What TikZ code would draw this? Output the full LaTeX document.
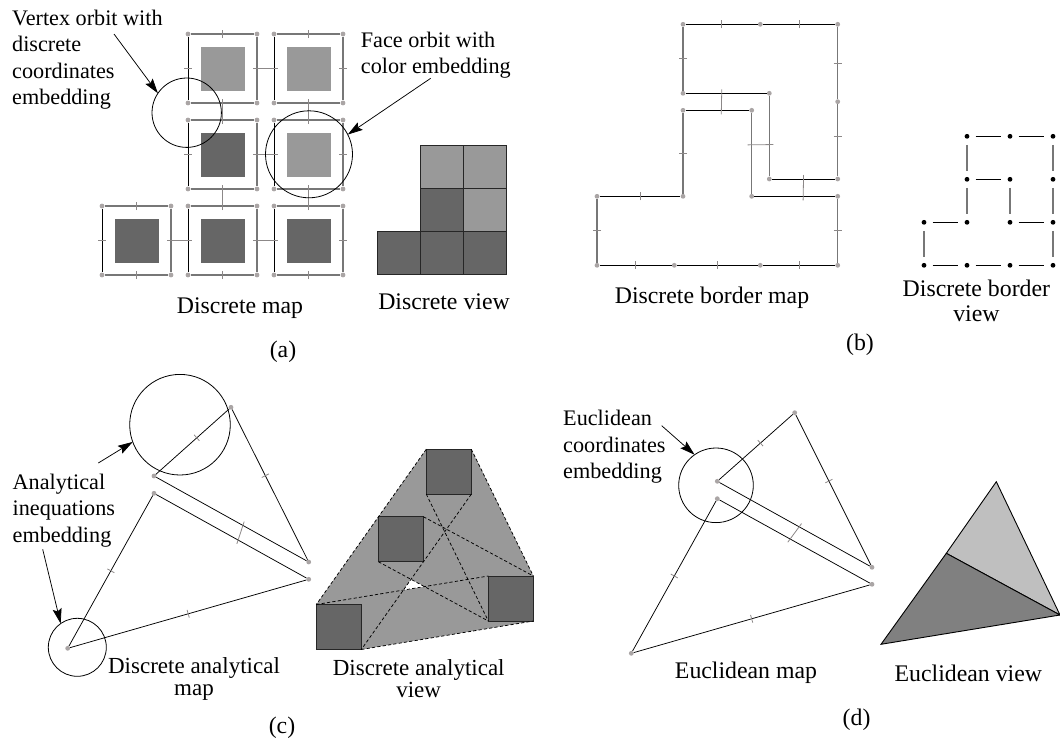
\documentclass[tikz,border=0pt]{standalone}
\usepackage{fontspec}
\setmainfont{Liberation Serif}
\usetikzlibrary{arrows.meta,backgrounds,decorations.markings,positioning}
\definecolor{facelight}{HTML}{999999}
\definecolor{facedark}{HTML}{666666}
\definecolor{dotgray}{HTML}{AAA5A5}
\definecolor{arcgray}{HTML}{777777}
\definecolor{tickgray}{HTML}{8C8888}
\tikzset{
  vertexdot/.style={circle,fill=dotgray,inner sep=0pt,minimum size=4.8pt},
  bulletdot/.style={circle,fill=black,inner sep=0pt,minimum size=4.8pt},
  arcblack/.style={black,line width=.9pt},
  arcgrey/.style={arcgray,line width=1.5pt},
  arcthin/.style={black,line width=.75pt},
  tickline/.style={tickgray,line width=.8pt},
  ticked/.style={postaction={decorate,decoration={markings,mark=at position #1 with {\draw[tickline] (0pt,-4pt) -- (0pt,4pt);}}}},
  ticked/.default=.5,
  link/.style={tickline,shorten <=-4pt,shorten >=-4pt},
  face/.style={rectangle,inner sep=0pt,outer sep=0pt,minimum size=44pt},
  tile/.style={rectangle,draw=black!85,line width=.9pt,inner sep=0pt,outer sep=0pt,minimum size=43pt},
  square/.style={rectangle,draw=black!85,fill=facedark,line width=.9pt,inner sep=0pt,outer sep=0pt,minimum size=45pt},
  ring/.style={circle,draw,line width=.8pt,inner sep=0pt,outer sep=0pt,minimum size=#1},
  pointer/.style={-{Stealth[length=15pt,width=9pt,inset=2.5pt]},line width=.75pt},
  dashline/.style={line width=.75pt,dash pattern=on 3.2pt off 2.2pt},
  title/.style={font=\fontsize{23.8}{25}\selectfont,align=center,inner sep=0pt},
  titlewide/.style={font=\fontsize{23}{22}\selectfont,align=center,inner sep=0pt},
  note/.style={font=\fontsize{22.2}{26.5}\selectfont,align=left,anchor=west,inner sep=0pt}
}
\newcommand{\facecell}[4]{
  \node[vertexdot] (#1-nw) at (#2,#3) {};
  \node[vertexdot] (#1-ne) at (#2+69,#3) {};
  \node[vertexdot] (#1-se) at (#2+69,#3+69) {};
  \node[vertexdot] (#1-sw) at (#2,#3+69) {};
  \node[face,fill=#4] (#1-face) at (#2+34.5,#3+34.5) {};
  \draw[arcgrey,ticked] (#1-nw) -- coordinate (#1-n) (#1-ne);
  \draw[arcgrey,ticked] (#1-sw) -- coordinate (#1-s) (#1-se);
  \draw[arcblack,ticked] (#1-nw) -- coordinate (#1-w) (#1-sw);
  \draw[arcgrey,line width=1.1pt,ticked] (#1-ne) -- coordinate (#1-e) (#1-se);
}
\begin{document}
\begin{tikzpicture}[x=1pt,y=-1pt]
  \useasboundingbox (0,0) rectangle (1060,742);

  \facecell{ca}{188}{34}{facelight}
  \facecell{cb}{274}{34}{facelight}
  \facecell{cc}{188}{120}{facedark}
  \facecell{cd}{274}{120}{facelight}
  \facecell{ce}{102}{206}{facedark}
  \facecell{cf}{188}{206}{facedark}
  \facecell{cg}{274}{206}{facedark}
  \draw[link] (ca-e) -- (cb-w);
  \draw[link] (cc-e) -- (cd-w);
  \draw[link] (ce-e) -- (cf-w);
  \draw[link] (cf-e) -- (cg-w);
  \draw[link] (ca-s) -- (cc-n);
  \draw[link] (cb-s) -- (cd-n);
  \draw[link] (cc-s) -- (cf-n);
  \draw[link] (cd-s) -- (cg-n);
  \node[ring=69.4pt] (orbitv) at (186.7,112.7) {};
  \node[ring=87pt] (orbitf) at (309,154.3) {};
  \node[note] (notev) at (12,59.5) {Vertex orbit with\\discrete\\coordinates\\embedding};
  \node[note] (notef) at (360.7,55) {Face orbit with\\color embedding};
  \coordinate (fromv) at (114,34);
  \coordinate (fromf) at (430.7,78.3);
  \draw[pointer] (fromv) -- (orbitv.146);
  \draw[pointer] (fromf) -- (orbitf.27);

  \node[tile,fill=facedark] (va) at (398.8,253.2) {};
  \node[tile,fill=facedark,right=0pt of va] (vb) {};
  \node[tile,fill=facedark,right=0pt of vb] (vc) {};
  \node[tile,fill=facedark,above=0pt of vb] (vd) {};
  \node[tile,fill=facelight,above=0pt of vc] (ve) {};
  \node[tile,fill=facelight,above=0pt of vd] (vf) {};
  \node[tile,fill=facelight,above=0pt of ve] (vg) {};
  \node[title] (capmap) at (240,308) {Discrete map};
  \node[title] (capview) at (444,302) {Discrete view};
  \node[title] (capa) at (283,352) {(a)};

  \node[vertexdot] (b1) at (683,24.3) {};
  \node[vertexdot] (b2) at (760.3,24.3) {};
  \node[vertexdot] (b3) at (837.7,24.3) {};
  \node[vertexdot] (b4) at (837.7,101.7) {};
  \node[vertexdot] (b5) at (837.7,179) {};
  \node[vertexdot] (b6) at (769.3,179) {};
  \node[vertexdot] (b7) at (769.3,93.3) {};
  \node[vertexdot] (b8) at (683,93.3) {};
  \node[vertexdot] (b9) at (683,110.3) {};
  \node[vertexdot] (b10) at (751.7,110.3) {};
  \node[vertexdot] (b11) at (751.7,196.3) {};
  \node[vertexdot] (b12) at (837.7,196.3) {};
  \node[vertexdot] (b13) at (837.7,265.3) {};
  \node[vertexdot] (b14) at (760.3,265.3) {};
  \node[vertexdot] (b15) at (674.3,265.3) {};
  \node[vertexdot] (b16) at (597,265.3) {};
  \node[vertexdot] (b17) at (597,196.3) {};
  \node[vertexdot] (b18) at (683,196.3) {};
  \draw[arcblack,ticked] (b1) -- (b2);
  \draw[arcblack,ticked] (b2) -- (b3);
  \draw[arcgrey,ticked] (b3) -- (b4);
  \draw[arcgrey,ticked=.45] (b4) -- (b5);
  \draw[arcblack] (b5) -- coordinate (bl1) (b6);
  \draw[arcgrey] (b6) -- coordinate[pos=.395] (bl2) (b7);
  \draw[arcblack] (b7) -- coordinate[pos=.555] (bl3) (b8);
  \draw[arcgrey,ticked] (b8) -- (b1);
  \draw[arcblack] (b9) -- coordinate[pos=.563] (bl4) (b10);
  \draw[arcgrey] (b10) -- coordinate[pos=.395] (bl5) (b11);
  \draw[arcblack] (b11) -- coordinate[pos=.605] (bl6) (b12);
  \draw[arcgrey,ticked] (b12) -- (b13);
  \draw[arcblack,ticked] (b13) -- (b14);
  \draw[arcblack,ticked] (b14) -- (b15);
  \draw[arcblack,ticked] (b15) -- (b16);
  \draw[arcgrey,ticked] (b16) -- (b17);
  \draw[arcblack,ticked] (b17) -- (b18);
  \draw[arcgrey,ticked] (b18) -- (b9);
  \draw[link] (bl1) -- (bl6);
  \draw[link] (bl2) -- (bl5);
  \draw[link] (bl3) -- (bl4);
  \node[title] (capbmap) at (712,298) {Discrete border map};
  \node[title] (capbview) at (976.4,301) {Discrete border\\view};
  \node[title] (capb) at (860,345) {(b)};

  \node[bulletdot] (p1) at (967,136.3) {};
  \node[bulletdot] (p2) at (1010,136.3) {};
  \node[bulletdot] (p3) at (1053,136.3) {};
  \node[bulletdot] (p4) at (967,179.3) {};
  \node[bulletdot] (p5) at (1010,179.3) {};
  \node[bulletdot] (p6) at (1053,179.3) {};
  \node[bulletdot] (p7) at (924,222.3) {};
  \node[bulletdot] (p8) at (967,222.3) {};
  \node[bulletdot] (p9) at (1010,222.3) {};
  \node[bulletdot] (p10) at (1053,222.3) {};
  \node[bulletdot] (p11) at (924,265.3) {};
  \node[bulletdot] (p12) at (967,265.3) {};
  \node[bulletdot] (p13) at (1010,265.3) {};
  \node[bulletdot] (p14) at (1053,265.3) {};
  \begin{scope}[shorten <=6pt,shorten >=6pt]
    \draw[arcblack] (p1) -- (p2);
    \draw[arcblack] (p2) -- (p3);
    \draw[arcblack] (p4) -- (p5);
    \draw[arcblack] (p7) -- (p8);
    \draw[arcblack] (p9) -- (p10);
    \draw[arcblack] (p11) -- (p12);
    \draw[arcblack] (p12) -- (p13);
    \draw[arcblack] (p13) -- (p14);
    \draw[arcgrey] (p1) -- (p4);
    \draw[arcgrey] (p4) -- (p8);
    \draw[arcgrey] (p3) -- (p6);
    \draw[arcgrey] (p6) -- (p10);
    \draw[arcgrey] (p10) -- (p14);
    \draw[arcgrey] (p5) -- (p9);
    \draw[arcgrey] (p7) -- (p11);
  \end{scope}

  \node[vertexdot] (t1) at (231,407.3) {};
  \node[vertexdot] (t2) at (154,476) {};
  \node[vertexdot] (t3) at (308.7,562) {};
  \node[vertexdot] (t4) at (154,493.3) {};
  \node[vertexdot] (t5) at (308.7,579.3) {};
  \node[vertexdot] (t6) at (67.7,648.3) {};
  \draw[arcthin,ticked=.56] (t2) -- (t1);
  \draw[arcthin,ticked=.56] (t3) -- (t1);
  \draw[arcthin] (t2) -- coordinate[pos=.577] (tl1) (t3);
  \draw[arcthin] (t4) -- coordinate[pos=.545] (tl2) (t5);
  \draw[arcthin,ticked] (t4) -- (t6);
  \draw[arcthin,ticked] (t6) -- (t5);
  \draw[link] (tl1) -- (tl2);
  \node[ring=100.6pt] (orbita) at (180,424.7) {};
  \node[ring=58pt] (orbitb) at (77.3,647.3) {};
  \node[note] (notea) at (12.5,510.5) {Analytical\\inequations\\embedding};
  \coordinate (froma) at (98.3,463);
  \coordinate (fromb) at (42.7,549.3);
  \draw[pointer] (froma) -- (orbita.200);
  \draw[pointer] (fromb) -- (orbitb.125);

  \node[square] (sa) at (448.8,471.7) {};
  \node[square] (sb) at (401,539.3) {};
  \node[square] (sc) at (510.8,598.5) {};
  \node[square] (sd) at (338.8,627) {};
  \begin{scope}[on background layer]
    \fill[facelight] (sa.north west) -- (sa.north east) -- (sc.north east) -- (sc.south east) -- (sd.south east) -- (sd.south west) -- (sd.north west) -- cycle;
    \fill[white] (intersection of sa.south east--sd.south east and sb.south west--sc.south west) -- (intersection of sa.south east--sd.south east and sd.north west--sc.north west) -- (intersection of sb.south west--sc.south west and sd.north west--sc.north west) -- cycle;
  \end{scope}
  \draw[dashline] (sa.north west) -- (sd.north west);
  \draw[dashline] (sa.north east) -- (sc.north east);
  \draw[dashline] (sd.south east) -- (sc.south east);
  \draw[dashline] (sa.south west) -- (sc.south west);
  \draw[dashline] (sa.south east) -- (sd.south east);
  \draw[dashline] (sb.north east) -- (sc.north east);
  \draw[dashline] (sb.south west) -- (sc.south west);
  \draw[dashline] (sd.north west) -- (sc.north west);
  \node[titlewide] (capcmap) at (194,679) {Discrete analytical\\map};
  \node[titlewide] (capcview) at (418.7,679) {Discrete analytical\\view};
  \node[title] (capc) at (282,728) {(c)};

  \node[vertexdot] (e1) at (794.7,412.7) {};
  \node[vertexdot] (e2) at (717.3,481.3) {};
  \node[vertexdot] (e3) at (872,567.3) {};
  \node[vertexdot] (e4) at (717.3,498.7) {};
  \node[vertexdot] (e5) at (872,584.3) {};
  \node[vertexdot] (e6) at (631.3,653.3) {};
  \draw[arcthin,ticked=.56] (e2) -- (e1);
  \draw[arcthin,ticked=.56] (e3) -- (e1);
  \draw[arcthin] (e2) -- coordinate[pos=.53] (el1) (e3);
  \draw[arcthin] (e4) -- coordinate[pos=.47] (el2) (e5);
  \draw[arcthin,ticked] (e4) -- (e6);
  \draw[arcthin,ticked] (e6) -- (e5);
  \draw[link] (el1) -- (el2);
  \node[ring=74.6pt] (orbite) at (716,485.3) {};
  \node[note] (notee) at (563,447) {Euclidean\\coordinates\\embedding};
  \coordinate (frome) at (661.7,425.7);
  \draw[pointer] (frome) -- (orbite.125);

  \coordinate (w1) at (996.3,481.7);
  \coordinate (w2) at (946.3,553.3);
  \coordinate (w3) at (1060,615);
  \coordinate (w4) at (881,644.3);
  \draw[fill=black!25,line width=.9pt] (w1) -- (w2) -- (w3) -- cycle;
  \draw[fill=black!50,line width=.9pt] (w2) -- (w4) -- (w3) -- cycle;
  \node[title] (capemap) at (746,673) {Euclidean map};
  \node[title] (capeview) at (968.3,673) {Euclidean view};
  \node[title] (capd) at (856.6,720) {(d)};
\end{tikzpicture}
\end{document}
